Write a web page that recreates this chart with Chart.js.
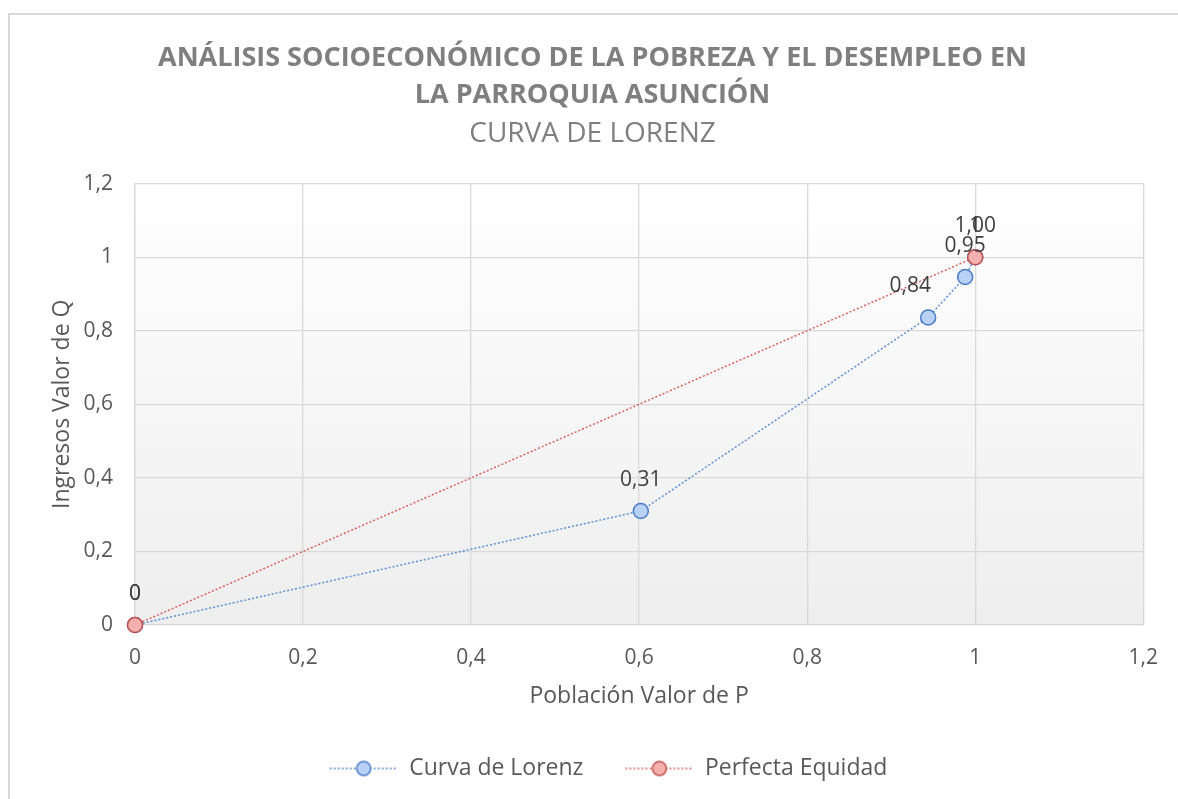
<!DOCTYPE html>
<html lang="es">
<head>
    <meta charset="UTF-8">
    <title>Curva de Lorenz</title>
    <style>
        body {
            margin: 0;
            padding: 0;
            background: #fff;
            overflow: hidden;
        }
        #wrap {
            position: relative;
            width: 1178px;
            height: 799px;
        }
        #frame {
            position: absolute;
            left: 8px;
            top: 13px;
            width: 1200px;
            height: 900px;
            border: 2px solid #d9d9d9;
            pointer-events: none;
        }
    </style>
    <script src="https://cdn.jsdelivr.net/npm/chart.js"></script>
</head>
<body>
<div id="wrap">
    <canvas id="lorenz" width="1178" height="799"></canvas>
    <div id="frame"></div>
</div>
<script>
    // datos
    const poblacionP = [0, 0.602, 0.944, 0.988, 1];
    const ingresosQ = [0, 0.31, 0.836, 0.946, 1];
    const equidadP = [0, 1];
    const equidadQ = [0, 1];
    const ticksEje = [0, 0.2, 0.4, 0.6, 0.8, 1, 1.2];

    const FONT = "'Open Sans', 'Noto Sans', sans-serif";
    const comma = v => String(v).replace('.', ',');

    function tickLabel(v) {
        return comma(Math.round(v * 10) / 10);
    }

    // marcador de leyenda: línea punteada + círculo (con hueco a la izquierda)
    function legendMarker(stroke, fill, border) {
        const c = document.createElement('canvas');
        c.width = 100;
        c.height = 20;
        const g = c.getContext('2d');
        g.strokeStyle = stroke;
        g.lineWidth = 1.5;
        g.setLineDash([2, 2]);
        g.beginPath();
        g.moveTo(32, 10);
        g.lineTo(100, 10);
        g.stroke();
        g.setLineDash([]);
        g.beginPath();
        g.arc(66, 10, 7, 0, Math.PI * 2);
        g.fillStyle = fill;
        g.fill();
        g.strokeStyle = border;
        g.lineWidth = 1.5;
        g.stroke();
        return c;
    }

    // fondo degradado del área de trazado
    const plotBackground = {
        id: 'plotBackground',
        beforeDraw(chart) {
            const {ctx, chartArea: a} = chart;
            const grad = ctx.createLinearGradient(0, a.top, 0, a.bottom);
            grad.addColorStop(0, '#ffffff');
            grad.addColorStop(1, '#eeeeee');
            ctx.save();
            ctx.fillStyle = grad;
            ctx.fillRect(a.left, a.top, a.right - a.left, a.bottom - a.top);
            ctx.restore();
        }
    };

    // etiquetas de datos encima de cada punto
    const pointLabels = {
        id: 'pointLabels',
        afterDatasetsDraw(chart) {
            const ctx = chart.ctx;
            ctx.save();
            ctx.font = '21px ' + FONT;
            ctx.fillStyle = '#404040';
            ctx.textAlign = 'center';
            ctx.textBaseline = 'middle';
            chart.data.datasets.forEach((ds, i) => {
                const meta = chart.getDatasetMeta(i);
                meta.data.forEach((pt, j) => {
                    const dx = ds.labelDx ? ds.labelDx[j] : 0;
                    ctx.fillText(ds.labelFormat(ds.data[j].y), pt.x + dx, pt.y - 31);
                });
            });
            ctx.restore();
        }
    };

    const blueMarker = legendMarker('#5b8ed6', '#b9d0f7', '#4a7bc8');
    const redMarker = legendMarker('#d8605d', '#f5b0af', '#c0504d');

    new Chart(document.getElementById('lorenz'), {
        type: 'scatter',
        data: {
            datasets: [{
                label: 'Curva de Lorenz',
                data: poblacionP.map((p, i) => ({x: p, y: ingresosQ[i]})),
                order: 1,
                clip: false,
                showLine: true,
                borderColor: '#5b8ed6',
                borderWidth: 1.5,
                borderDash: [2, 2],
                pointRadius: 7.5,
                pointBackgroundColor: '#b9d0f7',
                pointBorderColor: '#4a7bc8',
                pointBorderWidth: 1.5,
                labelFormat: v => v === 0 ? '0' : comma(v.toFixed(2)),
                labelDx: [0, 0, -18, 0, 0],
                legendMarker: blueMarker
            }, {
                label: 'Perfecta Equidad',
                data: equidadP.map((p, i) => ({x: p, y: equidadQ[i]})),
                order: 0,
                clip: false,
                showLine: true,
                borderColor: '#d8605d',
                borderWidth: 1.5,
                borderDash: [2, 2],
                pointRadius: 7.5,
                pointBackgroundColor: '#f5b0af',
                pointBorderColor: '#c0504d',
                pointBorderWidth: 1.5,
                labelFormat: v => String(Math.round(v)),
                legendMarker: redMarker
            }]
        },
        options: {
            responsive: false,
            animation: false,
            layout: {
                padding: {top: 13, left: 40, right: 33, bottom: 9}
            },
            plugins: {
                title: {
                    display: true,
                    text: ['ANÁLISIS SOCIOECONÓMICO DE LA POBREZA Y EL DESEMPLEO EN', 'LA PARROQUIA ASUNCIÓN'],
                    color: '#7f7f7f',
                    font: {family: FONT, size: 27, weight: 'bold', lineHeight: 1.37},
                    padding: {top: 27, bottom: 0}
                },
                subtitle: {
                    display: true,
                    text: 'CURVA DE LORENZ',
                    color: '#7f7f7f',
                    font: {family: FONT, size: 28, lineHeight: 1.2},
                    padding: {top: 3, bottom: 33}
                },
                legend: {
                    position: 'bottom',
                    labels: {
                        color: '#595959',
                        font: {family: FONT, size: 23},
                        usePointStyle: true,
                        pointStyleWidth: 100,
                        padding: 10,
                        generateLabels(chart) {
                            return chart.data.datasets.map((ds, i) => ({
                                text: ds.label,
                                datasetIndex: i,
                                pointStyle: ds.legendMarker,
                                fontColor: '#595959',
                                lineWidth: 0,
                                hidden: false
                            }));
                        }
                    }
                },
                tooltip: {enabled: false}
            },
            scales: {
                x: {
                    type: 'linear',
                    min: 0,
                    max: 1.2,
                    afterBuildTicks(s) {
                        s.ticks = ticksEje.map(v => ({value: v}));
                    },
                    afterFit(s) {
                        s.height = 122;
                    },
                    grid: {color: '#d9d9d9', lineWidth: 1.3, drawTicks: false},
                    border: {color: '#d9d9d9', width: 1.3},
                    ticks: {
                        color: '#595959',
                        font: {family: FONT, size: 21},
                        padding: 20,
                        callback: tickLabel
                    },
                    title: {
                        display: true,
                        text: 'Población Valor de P',
                        color: '#595959',
                        font: {family: FONT, size: 23},
                        padding: {top: 10, bottom: 37}
                    }
                },
                y: {
                    type: 'linear',
                    min: 0,
                    max: 1.2,
                    afterBuildTicks(s) {
                        s.ticks = ticksEje.map(v => ({value: v}));
                    },
                    afterFit(s) {
                        s.width = 95;
                    },
                    grid: {color: '#d9d9d9', lineWidth: 1.3, drawTicks: false},
                    border: {color: '#d9d9d9', width: 1.3},
                    ticks: {
                        color: '#595959',
                        font: {family: FONT, size: 21},
                        padding: 22,
                        callback: tickLabel
                    },
                    title: {
                        display: true,
                        text: 'Ingresos Valor de Q',
                        color: '#595959',
                        font: {family: FONT, size: 23},
                        padding: {top: 9, bottom: 0}
                    }
                }
            }
        },
        plugins: [plotBackground, pointLabels]
    });
</script>
</body>
</html>
